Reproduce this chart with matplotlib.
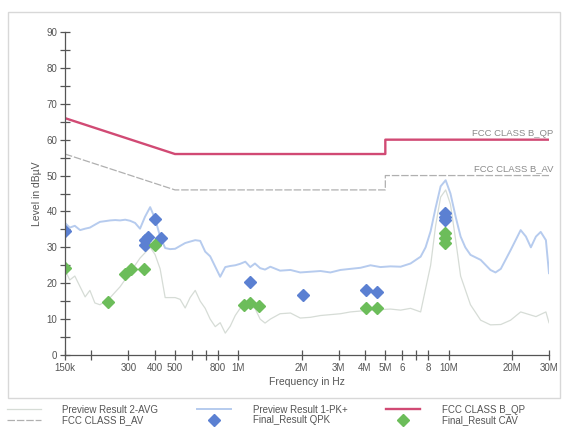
import matplotlib
matplotlib.use("Agg")
import matplotlib.pyplot as plt
from matplotlib.patches import Rectangle
from matplotlib.ticker import FixedLocator, FixedFormatter, NullFormatter

plt.rcParams["font.family"] = ["Liberation Sans", "DejaVu Sans"]

# ---- data ----
pk_freq = [150e3, 158e3, 167e3, 177e3, 187e3, 197e3, 208e3, 220e3, 233e3, 246e3,
           260e3, 274e3, 290e3, 306e3, 323e3, 341e3, 360e3, 381e3, 402e3, 425e3,
           449e3, 474e3, 501e3, 529e3, 559e3, 590e3, 624e3, 659e3, 696e3, 735e3,
           777e3, 820e3, 867e3, 915e3, 967e3, 1.02e6, 1.08e6, 1.14e6, 1.20e6, 1.27e6,
           1.34e6, 1.42e6, 1.58e6, 1.77e6, 1.97e6, 2.20e6, 2.46e6, 2.74e6, 3.06e6, 3.41e6,
           3.81e6, 4.25e6, 4.74e6, 5.29e6, 5.91e6, 6.59e6, 7.36e6, 7.77e6, 8.21e6, 8.67e6,
           9.16e6, 9.68e6, 10.2e6, 10.8e6, 11.4e6, 12.0e6, 12.7e6, 14.2e6, 15.8e6, 16.7e6,
           17.7e6, 19.7e6, 22.0e6, 23.3e6, 24.6e6, 26.0e6, 27.4e6, 29.0e6, 30e6]
pk_level = [36.8, 35.5, 36.0, 34.8, 35.2, 35.5, 36.3, 37.1, 37.3, 37.5,
            37.6, 37.5, 37.7, 37.4, 36.8, 35.2, 38.5, 41.2, 38.0, 33.0,
            29.8, 29.5, 29.6, 30.4, 31.2, 31.6, 32.0, 31.8, 28.8, 27.5,
            24.6, 21.8, 24.5, 24.8, 25.0, 25.4, 26.0, 24.5, 25.5, 24.2,
            23.8, 24.6, 23.5, 23.7, 23.0, 23.2, 23.4, 23.0, 23.7, 24.0,
            24.3, 25.0, 24.5, 24.7, 24.6, 25.5, 27.4, 30.0, 34.5, 41.0,
            47.0, 48.7, 45.0, 38.5, 33.0, 30.0, 27.9, 26.5, 23.7, 23.0,
            24.0, 29.2, 34.8, 33.0, 30.0, 33.0, 34.3, 32.0, 22.8]

avg_freq = [150e3, 158e3, 167e3, 177e3, 187e3, 197e3, 208e3, 220e3, 233e3, 246e3,
            274e3, 306e3, 341e3, 381e3, 402e3, 425e3, 449e3, 501e3, 529e3, 559e3,
            590e3, 624e3, 659e3, 696e3, 735e3, 777e3, 820e3, 867e3, 915e3, 967e3,
            1.02e6, 1.08e6, 1.20e6, 1.27e6, 1.34e6, 1.42e6, 1.58e6, 1.77e6, 1.97e6, 2.20e6,
            2.46e6, 3.06e6, 3.41e6, 4.25e6, 5.29e6, 5.91e6, 6.59e6, 7.36e6, 8.21e6, 8.67e6,
            9.16e6, 9.68e6, 10.2e6, 10.8e6, 11.4e6, 12.7e6, 14.2e6, 15.8e6, 17.7e6, 19.7e6,
            22.0e6, 26.0e6, 29.0e6, 30e6]
avg_level = [23.7, 20.9, 22.0, 19.0, 16.2, 18.0, 14.5, 14.0, 15.0, 16.0,
             19.0, 23.0, 27.0, 30.0, 28.0, 24.0, 16.0, 16.0, 15.5, 13.1,
             16.0, 18.0, 15.0, 13.0, 10.0, 7.9, 9.0, 6.1, 8.0, 11.0,
             13.0, 14.0, 13.0, 10.0, 8.9, 10.0, 11.5, 11.7, 10.3, 10.5,
             11.0, 11.5, 12.0, 12.5, 12.8, 12.5, 13.0, 12.0, 25.0, 36.0,
             44.0, 46.0, 42.0, 32.0, 22.0, 14.0, 9.7, 8.4, 8.5, 9.7,
             12.0, 10.7, 12.0, 9.0]

qpk_freq = [150e3, 360e3, 372e3, 360e3, 400e3, 427e3, 1.14e6, 2.03e6, 4.06e6, 4.57e6,
            9.56e6, 9.56e6, 9.56e6]
qpk_level = [34.6, 30.6, 33.0, 32.0, 38.0, 32.5, 20.4, 16.7, 18.1, 17.5,
             39.5, 38.5, 37.6]

cav_freq = [150e3, 240e3, 290e3, 309e3, 357e3, 400e3, 1.07e6, 1.14e6, 1.25e6, 4.06e6,
            4.57e6, 9.56e6, 9.56e6, 9.56e6]
cav_level = [24.3, 14.8, 22.5, 23.9, 23.9, 30.6, 13.9, 14.4, 13.6, 13.0,
             13.0, 33.9, 32.5, 31.3]

qp_limit_freq = [150e3, 500e3, 5e6, 5e6, 30e6]
qp_limit_level = [66, 56, 56, 60, 60]
av_limit_freq = [150e3, 500e3, 5e6, 5e6, 30e6]
av_limit_level = [56, 46, 46, 50, 50]

major_ticks = [150e3, 300e3, 400e3, 500e3, 800e3, 1e6, 2e6, 3e6, 4e6, 5e6, 6e6, 8e6, 10e6, 20e6, 30e6]
major_labels = ["150k", "300", "400", "500", "800", "1M", "2M", "3M", "4M", "5M", "6", "8", "10M", "20M", "30M"]
minor_ticks = [200e3, 600e3, 700e3, 7e6]

# ---- plot ----
fig = plt.figure(figsize=(5.69, 4.42), dpi=100)
ax = fig.add_axes([65 / 569, 1 - 355 / 442, 484 / 569, 323 / 442])

fig.patches.append(Rectangle((8 / 569, 1 - 398 / 442), 552 / 569, 386 / 442,
                             transform=fig.transFigure, fill=False,
                             edgecolor="#d8d8d8", linewidth=1.0))

ax.plot(avg_freq, avg_level, color="#d6dcd6", lw=0.9, label="Preview Result 2-AVG")
ax.plot(av_limit_freq, av_limit_level, color="#b0b0b0", lw=0.9, ls=(0, (6, 1.5)), label="FCC CLASS B_AV")
ax.plot(pk_freq, pk_level, color="#b6cbee", lw=1.4, label="Preview Result 1-PK+")
ax.plot(qpk_freq, qpk_level, ls="none", marker="D", ms=5.8, color="#5b80d2",
        markeredgecolor="#5b80d2", label="Final_Result QPK")
ax.plot(qp_limit_freq, qp_limit_level, color="#d14a74", lw=1.7, label="FCC CLASS B_QP")
ax.plot(cav_freq, cav_level, ls="none", marker="D", ms=5.8, color="#6cbd5a",
        markeredgecolor="#6cbd5a", label="Final_Result CAV")

ax.text(30e6 * 1.05, 60.6, "FCC CLASS B_QP", ha="right", va="bottom", fontsize=6.8, color="#8a8a8a")
ax.text(30e6 * 1.05, 50.6, "FCC CLASS B_AV", ha="right", va="bottom", fontsize=6.8, color="#8a8a8a")

ax.set_xscale("log")
ax.set_xlim(150e3, 30e6)
ax.set_ylim(0, 90)
ax.xaxis.set_major_locator(FixedLocator(major_ticks))
ax.xaxis.set_major_formatter(FixedFormatter(major_labels))
ax.xaxis.set_minor_locator(FixedLocator(minor_ticks))
ax.xaxis.set_minor_formatter(NullFormatter())
ax.set_yticks(range(0, 91, 10))
ax.set_yticks(range(5, 90, 10), minor=True)

for side in ("top", "right"):
    ax.spines[side].set_visible(False)
for side in ("left", "bottom"):
    ax.spines[side].set_color("#555555")
    ax.spines[side].set_linewidth(0.9)

ax.tick_params(which="major", direction="inout", length=7, width=0.9, color="#555555",
               labelsize=7, labelcolor="#555555", pad=2)
ax.tick_params(which="minor", direction="inout", length=7, width=0.9, color="#555555")

ax.set_xlabel("Frequency in Hz", fontsize=7.5, color="#555555", labelpad=3)
ax.set_ylabel("Level in dBµV", fontsize=7.5, color="#555555", labelpad=3)

handles, labels = ax.get_legend_handles_labels()
fig.legend(handles, labels, loc="upper left", bbox_to_anchor=(0.0, 1 - 398 / 442),
           ncol=3, frameon=False, fontsize=7, labelcolor="#555555",
           handlelength=3.5, columnspacing=4.0, labelspacing=0.05, handletextpad=2.2,
           borderaxespad=0.3)

fig.savefig("out.png", dpi=100, facecolor="white")
